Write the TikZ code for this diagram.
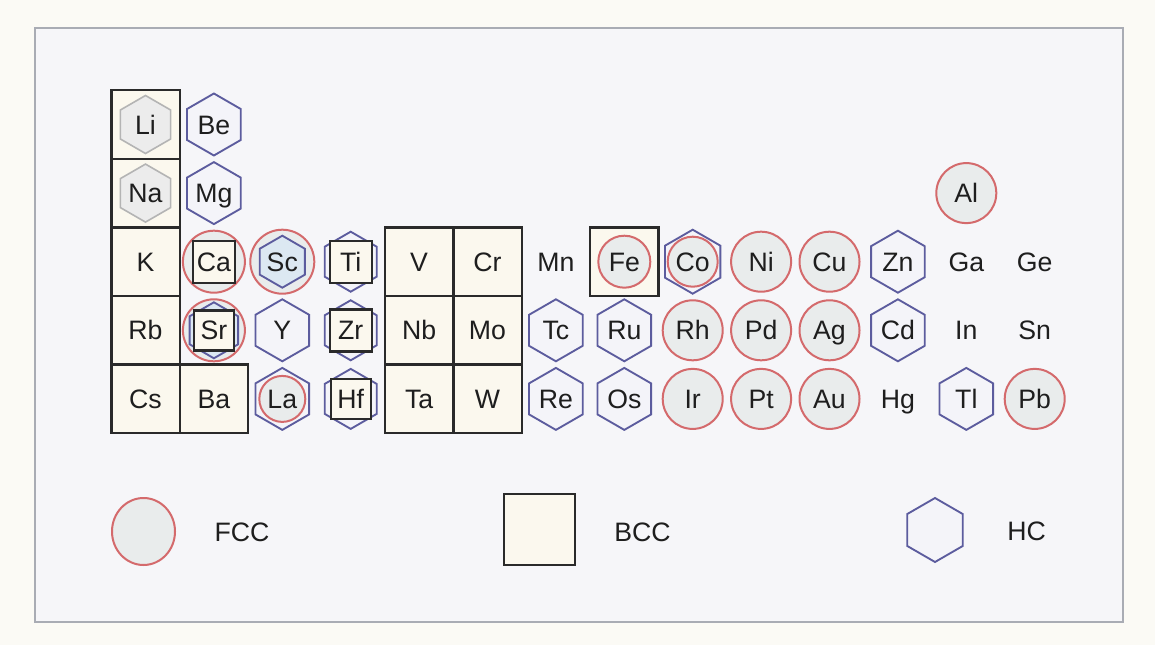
\documentclass[tikz,border=0pt]{standalone}
\usepackage{fontspec}
\setmainfont{Liberation Sans}
\usetikzlibrary{calc,backgrounds}

\definecolor{pagebg}{HTML}{FBFAF5}
\definecolor{framegray}{HTML}{A9ACB4}
\definecolor{framefill}{HTML}{F6F6F9}
\definecolor{fccred}{HTML}{D46A6C}
\definecolor{fccfill}{HTML}{E9ECEC}
\definecolor{bccline}{HTML}{2A2A2A}
\definecolor{bccfill}{HTML}{FBF8EE}
\definecolor{hcblue}{HTML}{5C5C9E}
\definecolor{hcfill}{HTML}{F4F4F9}
\definecolor{ligray}{HTML}{B4B4B4}
\definecolor{lifill}{HTML}{ECECEC}
\definecolor{scblue}{HTML}{DCE8F2}
\definecolor{elemtext}{HTML}{1E1E1E}

\tikzset{every picture/.style={line width=0.75pt}}
\tikzset{
  elem/.style={inner sep=0pt, text height=14.5pt, text depth=0pt,
    font=\fontsize{20}{24}\selectfont, text=elemtext},
  frame/.style={draw=framegray, fill=framefill, line width=2pt},
  fcc/.style={draw=fccred, fill=fccfill, line width=1.5pt},
  bcc/.style={draw=bccline, fill=bccfill, line width=1.8pt},
  hc/.style={draw=hcblue, fill=hcfill, line width=1.4pt},
  hcgray/.style={draw=ligray, fill=lifill, line width=1.2pt},
  hcsc/.style={draw=hcblue, fill=scblue, line width=1.4pt},
}

% hexagon, pointy top: [style]{centre}{radius}
\newcommand{\hexa}[3][hc]{\draw[#1] ($(#2)+(90:#3)$) -- ($(#2)+(150:#3)$) -- ($(#2)+(210:#3)$) -- ($(#2)+(270:#3)$) -- ($(#2)+(330:#3)$) -- ($(#2)+(30:#3)$) -- cycle;}
% one full cell of the table
\newcommand{\bcccell}[1]{\draw[bcc] ($(#1)+(-34.2,-34.3)$) rectangle ($(#1)+(34.2,34.3)$);}
% small square inside a cell: {centre}{half side}
\newcommand{\sqin}[2]{\draw[bcc] ($(#1)+(-#2,-#2)$) rectangle ($(#1)+(#2,#2)$);}

\begin{document}
\begin{tikzpicture}[x=0.75pt,y=0.75pt,yscale=-1,xscale=1]
\useasboundingbox (0,0) rectangle (1155,645);

% Text Nodes, row 1
\node[elem] (Li) at (145.5,124.5) {Li};
\node[elem] (Be) at (213.9,124.5) {Be};
% Text Nodes, row 2
\node[elem] (Na) at (145.5,193.1) {Na};
\node[elem] (Mg) at (213.9,193.1) {Mg};
\node[elem] (Al) at (966.3,193.1) {Al};
% Text Nodes, row 3
\node[elem] (K) at (145.5,261.7) {K};
\node[elem] (Ca) at (213.9,261.7) {Ca};
\node[elem] (Sc) at (282.3,261.7) {Sc};
\node[elem] (Ti) at (350.7,261.7) {Ti};
\node[elem] (V) at (419.1,261.7) {V};
\node[elem] (Cr) at (487.5,261.7) {Cr};
\node[elem] (Mn) at (555.9,261.7) {Mn};
\node[elem] (Fe) at (624.3,261.7) {Fe};
\node[elem] (Co) at (692.7,261.7) {Co};
\node[elem] (Ni) at (761.1,261.7) {Ni};
\node[elem] (Cu) at (829.5,261.7) {Cu};
\node[elem] (Zn) at (897.9,261.7) {Zn};
\node[elem] (Ga) at (966.3,261.7) {Ga};
\node[elem] (Ge) at (1034.7,261.7) {Ge};
% Text Nodes, row 4
\node[elem] (Rb) at (145.5,330.3) {Rb};
\node[elem] (Sr) at (213.9,330.3) {Sr};
\node[elem] (Y) at (282.3,330.3) {Y};
\node[elem] (Zr) at (350.7,330.3) {Zr};
\node[elem] (Nb) at (419.1,330.3) {Nb};
\node[elem] (Mo) at (487.5,330.3) {Mo};
\node[elem] (Tc) at (555.9,330.3) {Tc};
\node[elem] (Ru) at (624.3,330.3) {Ru};
\node[elem] (Rh) at (692.7,330.3) {Rh};
\node[elem] (Pd) at (761.1,330.3) {Pd};
\node[elem] (Ag) at (829.5,330.3) {Ag};
\node[elem] (Cd) at (897.9,330.3) {Cd};
\node[elem] (In) at (966.3,330.3) {In};
\node[elem] (Sn) at (1034.7,330.3) {Sn};
% Text Nodes, row 5
\node[elem] (Cs) at (145.5,398.9) {Cs};
\node[elem] (Ba) at (213.9,398.9) {Ba};
\node[elem] (La) at (282.3,398.9) {La};
\node[elem] (Hf) at (350.7,398.9) {Hf};
\node[elem] (Ta) at (419.1,398.9) {Ta};
\node[elem] (W) at (487.5,398.9) {W};
\node[elem] (Re) at (555.9,398.9) {Re};
\node[elem] (Os) at (624.3,398.9) {Os};
\node[elem] (Ir) at (692.7,398.9) {Ir};
\node[elem] (Pt) at (761.1,398.9) {Pt};
\node[elem] (Au) at (829.5,398.9) {Au};
\node[elem] (Hg) at (897.9,398.9) {Hg};
\node[elem] (Tl) at (966.3,398.9) {Tl};
\node[elem] (Pb) at (1034.7,398.9) {Pb};

% Legend
\coordinate (fcc-key) at (143.5,531.5);
\coordinate (bcc-key) at (539.5,529.5);
\coordinate (hc-key) at (935,530);
\node[elem] (fcc-text) at (242,532) {FCC};
\node[elem] (bcc-text) at (642.5,532) {BCC};
\node[elem] (hc-text) at (1026.5,531) {HC};

\begin{scope}[on background layer]
%Shape: Rectangle, page and frame
\fill[pagebg] (0,0) rectangle (1155,645);
\draw[frame] (35,28) rectangle (1123,622);

%Shape: BCC cells
\bcccell{Li} \bcccell{Na} \bcccell{K} \bcccell{Rb} \bcccell{Cs} \bcccell{Ba}
\bcccell{V} \bcccell{Cr} \bcccell{Nb} \bcccell{Mo} \bcccell{Ta} \bcccell{W}
\bcccell{Fe}
\hexa[hcgray]{Li}{29}
\hexa[hcgray]{Na}{29}

%Shape: HC hexagons
\hexa{Be}{31} \hexa{Mg}{31} \hexa{Y}{31}
\hexa{Tc}{31} \hexa{Ru}{31} \hexa{Re}{31} \hexa{Os}{31}
\hexa{Zn}{31} \hexa{Cd}{31} \hexa{Tl}{31}

%Shape: FCC circles
\draw[fcc] (Al) circle (30);
\draw[fcc] (Ni) circle (30);
\draw[fcc] (Cu) circle (30);
\draw[fcc] (Rh) circle (30);
\draw[fcc] (Pd) circle (30);
\draw[fcc] (Ag) circle (30);
\draw[fcc] (Ir) circle (30);
\draw[fcc] (Pt) circle (30);
\draw[fcc] (Au) circle (30);
\draw[fcc] (Pb) circle (30);
\draw[fcc] (Fe) circle (26);

%Shape: mixed structures
\draw[fcc] (Ca) circle (31);
\sqin{Ca}{21}
\draw[fcc] (Sc) circle (32);
\hexa[hcsc]{Sc}{26}
\draw[fcc] (Sr) circle (31);
\hexa[hcsc]{Sr}{28}
\sqin{Sr}{20}
\hexa{La}{31}
\draw[fcc] (La) circle (23);
\hexa{Co}{32}
\draw[fcc] (Co) circle (25);
\hexa{Ti}{30} \sqin{Ti}{21}
\hexa{Zr}{30} \sqin{Zr}{21}
\hexa{Hf}{30} \sqin{Hf}{20}

%Shape: legend keys
\draw[fcc] (fcc-key) ellipse (31.5 and 33.5);
\draw[bcc] ($(bcc-key)+(-35.5,-35.5)$) rectangle ($(bcc-key)+(35.5,35.5)$);
\hexa{hc-key}{32}
\end{scope}

\end{tikzpicture}
\end{document}
